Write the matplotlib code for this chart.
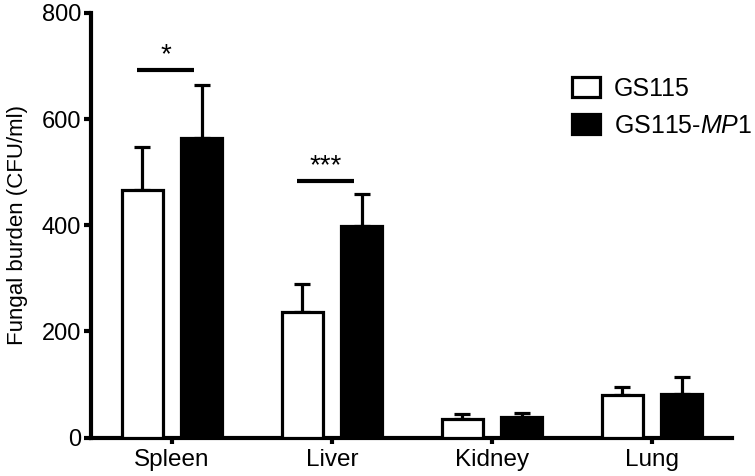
import matplotlib
matplotlib.use("Agg")
import matplotlib.pyplot as plt
import numpy as np

plt.rcParams['font.family'] = ['Liberation Sans', 'DejaVu Sans']
plt.rcParams['mathtext.fontset'] = 'custom'
plt.rcParams['mathtext.rm'] = 'Liberation Sans'
plt.rcParams['mathtext.it'] = 'Liberation Sans:italic'

# --- data ---
organs = ["Spleen", "Liver", "Kidney", "Lung"]
gs115_mean = [467, 236, 36, 80]
gs115_err = [80, 54, 8, 15]
mp1_mean = [564, 399, 39, 82]
mp1_err = [101, 60, 8, 33]
yticks = [0, 200, 400, 600, 800]

# significance brackets: (organ index, y level, label)
sig_organ = [0, 1]
sig_level = [693, 484]
sig_label = ["*", "***"]


def draw_chart():
    fig = plt.figure(figsize=(7.55, 4.76), dpi=100)
    ax = fig.add_axes([0.1205, 0.0805, 0.849, 0.8925])

    x = np.arange(len(organs))
    width = 0.26
    offset = 0.185
    lw = 2.3

    ax.bar(x - offset, gs115_mean, width, color='white', edgecolor='black',
           linewidth=lw, label='GS115', zorder=3)
    ax.bar(x + offset, mp1_mean, width, color='black', edgecolor='black',
           linewidth=lw, label='GS115-$\\mathit{MP1}$', zorder=3)

    # upper-only error bars
    ax.errorbar(x - offset, gs115_mean, yerr=[np.zeros(len(x)), gs115_err],
                fmt='none', ecolor='black', elinewidth=lw, capsize=5.5,
                capthick=lw, zorder=2)
    ax.errorbar(x + offset, mp1_mean, yerr=[np.zeros(len(x)), mp1_err],
                fmt='none', ecolor='black', elinewidth=lw, capsize=5.5,
                capthick=lw, zorder=2)

    # significance lines
    for i, lvl, lab in zip(sig_organ, sig_level, sig_label):
        ax.plot([x[i] - 0.22, x[i] + 0.14], [lvl, lvl], color='black',
                lw=3, solid_capstyle='butt')
        ax.text(x[i] - 0.04, lvl + 2, lab, ha='center', va='bottom',
                fontsize=20)

    ax.set_xlim(-0.506, 3.5)
    ax.set_ylim(0, 800)
    ax.set_yticks(yticks)
    ax.set_xticks(x)
    ax.set_xticklabels(organs)

    for side in ['top', 'right']:
        ax.spines[side].set_visible(False)
    for side in ['left', 'bottom']:
        ax.spines[side].set_linewidth(3)
    ax.tick_params(axis='y', length=5, width=3, labelsize=17, pad=2)
    ax.tick_params(axis='x', length=4, width=3, labelsize=17.5, pad=4)

    ax.set_ylabel("Fungal burden (CFU/ml)", fontsize=16, labelpad=10)

    ax.legend(loc='upper left', bbox_to_anchor=(0.75, 0.85), frameon=False,
              fontsize=18, handlelength=1.12, handleheight=0.84,
              handletextpad=0.56, labelspacing=0.52, borderpad=0,
              borderaxespad=0)

    fig.savefig('out.png', dpi=100)


if __name__ == "__main__":
    draw_chart()
